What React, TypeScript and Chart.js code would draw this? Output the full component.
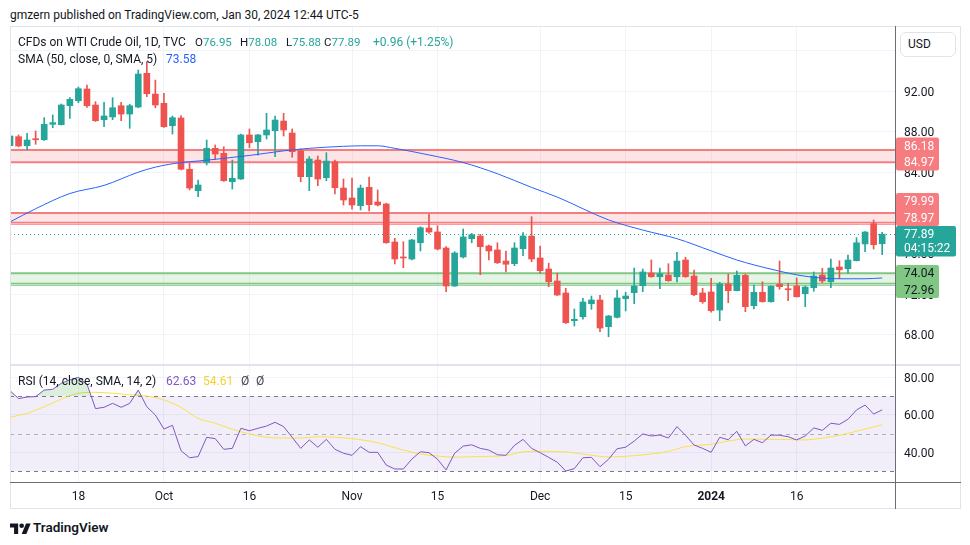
import React, { useEffect, useRef } from "react";
import { Chart, registerables } from "chart.js";

Chart.register(...registerables);

const FONT = "Roboto, 'Noto Sans', 'DejaVu Sans', sans-serif";
const TEXT = "#131722";
const GRID = "#F0F3FA";
const UP = "#26A69A";
const DOWN = "#EF5350";
const AXIS_LINE = "#6A6D78";

// ---- daily candles, Sep 6 2023 .. Jan 30 2024 (index = trading day) ----
const opens = [
  86.61, 87.5, 86.61, 87.27, 87.2, 88.72, 88.68, 90.55, 91.04, 92.2,
  90.62, 89.17, 89.44, 90.55, 89.73, 90.42, 93.74, 91.7, 90.79, 88.58,
  89.34, 84.29, 82.18, 84.94, 86.35, 85.86, 83.06, 83.33, 87.67, 87.0,
  87.67, 88.09, 89.04, 87.86, 86.09, 83.56, 85.2, 83.46, 85.03, 82.44,
  81.46, 80.7, 82.51, 81.06, 80.87, 77.12, 75.65, 75.45, 77.05, 78.5,
  78.11, 76.53, 72.79, 75.65, 77.45, 77.71, 76.73, 76.34, 75.25, 74.99,
  76.46, 77.71, 75.55, 74.46, 73.28, 72.1, 69.37, 69.76, 71.04, 71.41,
  68.78, 69.7, 71.54, 72.13, 72.82, 74.07, 73.7, 73.87, 73.7, 75.35,
  73.77, 72.1, 72.2, 70.42, 72.99, 72.33, 73.84, 70.85, 72.17, 71.24,
  72.96, 72.49, 72.79, 72.03, 72.62, 73.87, 73.21, 74.66, 74.49, 75.28,
  76.93, 78.93, 76.95,
];
const highs = [
  87.99, 87.67, 87.83, 88.06, 89.37, 89.64, 90.72, 91.34, 92.39, 92.59,
  90.95, 90.89, 91.34, 90.89, 90.69, 94.07, 94.89, 93.08, 91.77, 89.54,
  89.57, 84.88, 83.23, 87.17, 86.68, 86.51, 85.2, 87.75, 88.26, 87.72,
  89.8, 89.54, 89.8, 88.26, 86.29, 85.53, 85.6, 85.92, 85.2, 83.33,
  83.43, 82.74, 83.53, 82.25, 80.94, 77.49, 77.15, 77.38, 78.63, 79.85,
  78.73, 76.66, 76.17, 78.4, 77.98, 77.88, 76.83, 77.05, 76.24, 77.05,
  78.04, 79.62, 76.73, 75.03, 74.04, 72.56, 70.52, 71.58, 71.8, 71.87,
  69.9, 72.39, 72.17, 74.56, 74.46, 75.35, 74.56, 74.99, 76.11, 75.62,
  74.36, 72.56, 73.55, 73.15, 73.97, 74.27, 73.97, 72.89, 73.21, 72.8,
  75.25, 73.05, 73.58, 72.79, 74.17, 74.53, 75.45, 75.28, 75.84, 77.55,
  78.15, 79.29, 78.08,
];
const lows = [
  86.48, 86.51, 86.19, 86.75, 87.12, 88.38, 88.65, 89.31, 90.85, 90.39,
  89.0, 88.48, 89.17, 89.07, 88.33, 90.35, 91.44, 90.35, 88.4, 87.76,
  84.22, 82.25, 81.59, 84.71, 85.27, 83.1, 82.34, 83.28, 86.41, 85.69,
  87.27, 85.53, 87.57, 85.47, 83.06, 82.18, 82.67, 83.16, 81.85, 80.77,
  80.37, 80.28, 80.18, 80.67, 77.0, 74.96, 74.59, 75.35, 76.24, 77.98,
  76.34, 72.23, 72.75, 75.55, 77.05, 73.9, 75.35, 75.0, 74.17, 74.79,
  75.77, 75.18, 74.04, 72.72, 71.85, 69.1, 68.85, 69.51, 70.49, 68.29,
  67.79, 69.64, 70.33, 71.04, 72.23, 73.65, 72.52, 73.25, 73.18, 73.65,
  71.83, 71.08, 70.2, 69.37, 71.14, 72.3, 70.26, 70.52, 71.2, 71.2,
  72.46, 71.34, 71.7, 70.75, 72.27, 73.11, 72.62, 73.51, 74.04, 75.25,
  76.17, 76.43, 75.88,
];
const closes = [
  87.57, 86.58, 87.17, 87.2, 88.72, 88.88, 90.62, 91.18, 92.23, 90.55,
  89.07, 89.54, 90.35, 89.73, 90.55, 93.67, 91.73, 90.62, 88.48, 89.37,
  84.29, 82.44, 82.74, 86.35, 85.79, 83.16, 83.4, 87.67, 86.91, 87.67,
  88.16, 89.14, 88.16, 86.02, 83.56, 85.3, 83.33, 85.1, 82.47, 81.26,
  80.77, 82.44, 80.8, 80.77, 77.05, 75.45, 75.55, 77.32, 78.53, 78.11,
  76.43, 72.79, 76.04, 77.62, 77.84, 76.66, 76.24, 75.08, 74.93, 76.53,
  77.71, 75.45, 74.3, 73.21, 71.9, 69.17, 69.51, 71.21, 71.41, 68.65,
  69.83, 71.61, 71.8, 72.79, 74.17, 73.7, 74.0, 73.31, 75.25, 73.7,
  71.93, 71.24, 70.36, 72.99, 72.33, 73.84, 70.75, 72.17, 71.24, 72.76,
  72.72, 72.42, 71.73, 72.69, 73.77, 73.28, 74.56, 74.39, 75.35, 77.05,
  78.11, 76.86, 77.89,
];

// SMA(50) of close, read at these bar indices
const smaIdx = [0, 3, 7, 11, 15, 17, 20, 22, 28, 32, 35, 39, 41, 43, 45, 49, 53, 57, 61, 64, 70, 74, 78, 82, 85, 89, 93, 97, 100, 102];
const smaVals = [79.1, 80.4, 81.9, 82.7, 84.0, 84.5, 84.95, 85.1, 85.65, 86.1, 86.35, 86.55, 86.6, 86.6, 86.35, 85.7, 84.95, 83.85, 82.5, 81.55, 79.3, 78.3, 77.45, 76.25, 75.35, 74.45, 73.75, 73.5, 73.5, 73.58];

// RSI(14) per bar
const rsiVals = [
  72.9, 68.6, 69.5, 69.7, 73.2, 73.6, 76.8, 78.6, 80.0, 76.4,
  63.3, 64.0, 66.1, 64.0, 66.1, 73.2, 64.3, 59.9, 52.4, 54.4,
  40.9, 37.1, 37.7, 48.0, 47.3, 41.6, 42.1, 52.8, 51.5, 52.8,
  54.0, 56.0, 53.7, 48.0, 42.1, 46.6, 42.7, 46.9, 41.6, 39.5,
  38.4, 43.0, 40.0, 40.0, 33.2, 31.1, 31.1, 36.4, 40.3, 39.8,
  36.3, 30.6, 39.5, 43.3, 44.0, 42.1, 41.2, 38.7, 38.4, 43.7,
  46.9, 42.1, 39.8, 37.3, 34.7, 30.0, 31.3, 37.1, 37.3, 32.3,
  36.3, 41.9, 42.7, 46.0, 49.8, 48.7, 49.2, 47.6, 53.7, 49.1,
  43.9, 42.1, 40.0, 48.0, 46.7, 51.2, 43.4, 46.9, 45.1, 49.2,
  49.1, 48.3, 46.6, 48.7, 53.0, 51.7, 55.5, 54.9, 57.6, 62.6,
  65.2, 60.4, 62.63,
];
// SMA(14) of RSI, read at these bar indices
const rsiMaIdx = [0, 2, 4, 6, 8, 10, 12, 14, 16, 18, 20, 22, 24, 26, 28, 30, 32, 34, 36, 38, 40, 43, 46, 48, 50, 52, 55, 58, 60, 62, 65, 68, 70, 72, 74, 77, 79, 82, 84, 86, 88, 90, 93, 95, 97, 99, 100, 102];
const rsiMaVals = [58.7, 60.8, 64.3, 68.3, 71.5, 72.0, 71.5, 70.7, 70.0, 67.9, 64.0, 58.1, 55.5, 52.3, 49.8, 48.0, 47.6, 47.6, 48.3, 48.0, 47.3, 45.1, 41.2, 39.1, 38.0, 37.4, 37.8, 38.2, 40.3, 40.5, 40.2, 38.4, 37.5, 37.9, 38.6, 40.5, 43.0, 44.3, 46.0, 47.1, 47.0, 46.9, 46.6, 47.6, 49.1, 51.2, 52.4, 54.61];
const rsiLevels = [70, 50, 30];

// time axis
const tickIdx = [8, 18, 28, 40, 50, 62, 72, 82, 92];
const tickLabels = ["18", "Oct", "16", "Nov", "15", "Dec", "15", "2024", "16"];

// horizontal zones drawn on the chart
const zoneTop = [86.18, 79.99, 74.04];
const zoneBottom = [84.97, 78.97, 72.96];
const zoneColor = ["#F77C80", "#F77C80", "#81C784"];
const zoneFill = ["rgba(247,124,128,0.2)", "rgba(247,124,128,0.2)", "rgba(129,199,132,0.2)"];
const zoneLabelText = ["#FFFFFF", "#FFFFFF", "#131722"];
const zoneDoubleBottom = [false, true, true];

const countdown = "04:15:22";
const lastClose = closes[closes.length - 1];
const X_MIN = 0;
const X_MAX = 103.5;

const zonesPlugin = {
  id: "zones",
  beforeDatasetsDraw(chart: any) {
    const { ctx, chartArea: a, scales } = chart;
    const y = scales.y;
    const hline = (yy: number) => {
      ctx.beginPath();
      ctx.moveTo(a.left, yy);
      ctx.lineTo(a.right, yy);
      ctx.stroke();
    };
    ctx.save();
    ctx.beginPath();
    ctx.rect(a.left, a.top, a.right - a.left, a.bottom - a.top);
    ctx.clip();
    zoneTop.forEach((t, i) => {
      const yt = y.getPixelForValue(t);
      const yb = y.getPixelForValue(zoneBottom[i]);
      ctx.fillStyle = zoneFill[i];
      ctx.fillRect(a.left, yt, a.right - a.left, yb - yt);
      ctx.strokeStyle = zoneColor[i];
      ctx.lineWidth = 2;
      hline(yt);
      if (zoneDoubleBottom[i]) {
        ctx.lineWidth = 1.2;
        hline(yb - 0.8);
        hline(yb + 0.9);
      } else {
        hline(yb);
      }
    });
    ctx.setLineDash([1, 3]);
    ctx.strokeStyle = UP;
    ctx.lineWidth = 1;
    hline(Math.round(y.getPixelForValue(lastClose)) + 0.5);
    ctx.restore();
  },
};

const priceLabelsPlugin = {
  id: "priceLabels",
  afterDraw(chart: any) {
    const { ctx, chartArea, scales } = chart;
    const y = scales.y;
    const left = chartArea.right + 1;
    const H = 16.5;
    const lastY = y.getPixelForValue(lastClose);
    const tealLines = [
      { y: lastY, text: lastClose.toFixed(2) },
      { y: lastY + 14, text: countdown },
    ];
    const items: { y: number; text: string; group: number }[] = [];
    zoneTop.forEach((v, g) => {
      items.push({ y: y.getPixelForValue(v), text: v.toFixed(2), group: g });
      items.push({ y: y.getPixelForValue(zoneBottom[g]), text: zoneBottom[g].toFixed(2), group: g });
    });
    const above = items.filter((it) => it.y < lastY).sort((a, b) => b.y - a.y);
    let limit = tealLines[0].y;
    above.forEach((it) => {
      it.y = Math.min(it.y, limit - H);
      limit = it.y;
    });
    const below = items.filter((it) => it.y >= lastY).sort((a, b) => a.y - b.y);
    limit = tealLines[1].y;
    below.forEach((it) => {
      it.y = Math.max(it.y, limit + H);
      limit = it.y;
    });
    ctx.save();
    ctx.font = `12px ${FONT}`;
    ctx.textBaseline = "middle";
    ctx.textAlign = "left";
    zoneTop.forEach((_, g) => {
      const its = items.filter((it) => it.group === g);
      const top = Math.min(...its.map((i) => i.y)) - H / 2;
      const bot = Math.max(...its.map((i) => i.y)) + H / 2;
      ctx.fillStyle = zoneColor[g];
      ctx.beginPath();
      ctx.roundRect(left, top, 43, bot - top, 2);
      ctx.fill();
      ctx.fillStyle = zoneLabelText[g];
      its.forEach((it) => ctx.fillText(it.text, left + 8, it.y + 1));
    });
    const tTop = tealLines[0].y - H / 2;
    const tBot = tealLines[1].y + H / 2;
    ctx.fillStyle = UP;
    ctx.beginPath();
    ctx.roundRect(left, tTop, 60, tBot - tTop, 2);
    ctx.fill();
    ctx.fillStyle = "#FFFFFF";
    tealLines.forEach((l) => ctx.fillText(l.text, left + 8, l.y + 1));
    ctx.restore();
  },
};

const rsiBandPlugin = {
  id: "rsiBand",
  beforeDatasetsDraw(chart: any) {
    const { ctx, chartArea: a, scales } = chart;
    const y = scales.y;
    const yTop = y.getPixelForValue(rsiLevels[0]);
    const yBot = y.getPixelForValue(rsiLevels[2]);
    ctx.save();
    ctx.fillStyle = "rgba(126,87,194,0.1)";
    ctx.fillRect(a.left, yTop, a.right - a.left, yBot - yTop);
    ctx.setLineDash([4, 4]);
    ctx.lineWidth = 1;
    rsiLevels.forEach((lv, i) => {
      ctx.strokeStyle = i === 1 ? "rgba(120,123,134,0.55)" : "#787B86";
      const yy = Math.round(y.getPixelForValue(lv)) + 0.5;
      ctx.beginPath();
      ctx.moveTo(a.left, yy);
      ctx.lineTo(a.right, yy);
      ctx.stroke();
    });
    ctx.restore();
  },
};

const xTicks = (s: any) => {
  s.ticks = tickIdx.map((v) => ({ value: v }));
};

export default function App() {
  const priceRef = useRef<HTMLCanvasElement>(null);
  const rsiRef = useRef<HTMLCanvasElement>(null);

  useEffect(() => {
    const idx = closes.map((_, i) => i);
    const candleColors = idx.map((i) => (closes[i] >= opens[i] ? UP : DOWN));

    const priceChart = new Chart(priceRef.current as HTMLCanvasElement, {
      type: "bar",
      data: {
        datasets: [
          {
            type: "line",
            data: smaIdx.map((x, i) => ({ x, y: smaVals[i] })),
            borderColor: "#2962FF",
            borderWidth: 1,
            pointRadius: 0,
            tension: 0.4,
            cubicInterpolationMode: "monotone",
            order: 0,
          } as any,
          {
            type: "bar",
            data: idx.map((i) => ({ x: i, y: [opens[i], closes[i]] })),
            backgroundColor: candleColors,
            barThickness: 6,
            grouped: false,
            minBarLength: 1,
            borderWidth: 0,
            clip: 0,
            order: 1,
          } as any,
          {
            type: "bar",
            data: idx.map((i) => ({ x: i, y: [lows[i], highs[i]] })),
            backgroundColor: candleColors,
            barThickness: 1,
            grouped: false,
            borderWidth: 0,
            clip: 0,
            order: 2,
          } as any,
        ],
      },
      options: {
        responsive: false,
        maintainAspectRatio: false,
        animation: false,
        events: [],
        layout: { padding: 0 },
        plugins: { legend: { display: false }, tooltip: { enabled: false } },
        scales: {
          x: {
            type: "linear",
            min: X_MIN,
            max: X_MAX,
            offset: false,
            afterBuildTicks: xTicks,
            ticks: { display: false },
            grid: { color: GRID, drawTicks: false, offset: false },
            border: { display: false },
            afterFit: (s: any) => {
              s.height = 0;
              s.paddingLeft = 0;
              s.paddingRight = 0;
            },
          },
          y: {
            position: "right",
            min: 65.005,
            max: 98.404,
            ticks: {
              stepSize: 4,
              includeBounds: false,
              padding: 9,
              labelOffset: 1.5,
              color: TEXT,
              font: { family: FONT, size: 12 },
              callback: (v: any) => Number(v).toFixed(2),
            },
            grid: { color: GRID, drawTicks: false },
            border: { display: false },
            afterFit: (s: any) => {
              s.width = 65;
              s.paddingTop = 0;
              s.paddingBottom = 0;
            },
          },
        },
      } as any,
      plugins: [zonesPlugin, priceLabelsPlugin],
    });

    const rsiChart = new Chart(rsiRef.current as HTMLCanvasElement, {
      type: "line",
      data: {
        datasets: [
          {
            data: rsiVals.map((y, i) => ({ x: i, y })),
            borderColor: "#7E57C2",
            borderWidth: 1,
            pointRadius: 0,
            tension: 0,
            fill: { target: { value: rsiLevels[0] }, above: "rgba(76,175,80,0.2)", below: "rgba(0,0,0,0)" },
          },
          {
            data: rsiMaIdx.map((x, i) => ({ x, y: rsiMaVals[i] })),
            borderColor: "#F9E04B",
            borderWidth: 1,
            pointRadius: 0,
            tension: 0.4,
            cubicInterpolationMode: "monotone",
            fill: false,
          },
        ],
      },
      options: {
        responsive: false,
        maintainAspectRatio: false,
        animation: false,
        events: [],
        layout: { padding: 0 },
        plugins: { legend: { display: false }, tooltip: { enabled: false } },
        scales: {
          x: {
            type: "linear",
            min: X_MIN,
            max: X_MAX,
            offset: false,
            afterBuildTicks: xTicks,
            ticks: {
              autoSkip: false,
              maxRotation: 0,
              padding: 8,
              color: TEXT,
              font: (ctx: any) => ({
                family: FONT,
                size: 12,
                weight: tickLabels[ctx.index] === "2024" ? "bold" : "normal",
              }),
              callback: (_v: any, i: number) => tickLabels[i],
            },
            grid: { color: GRID, drawTicks: false },
            border: { display: false },
            afterFit: (s: any) => {
              s.height = 26;
              s.paddingLeft = 0;
              s.paddingRight = 0;
            },
          },
          y: {
            position: "right",
            min: 24.16,
            max: 86.56,
            ticks: {
              stepSize: 20,
              includeBounds: false,
              padding: 9,
              labelOffset: 1.5,
              color: TEXT,
              font: { family: FONT, size: 12 },
              callback: (v: any) => Number(v).toFixed(2),
            },
            grid: { color: GRID, drawTicks: false },
            border: { display: false },
            afterFit: (s: any) => {
              s.width = 65;
              s.paddingTop = 0;
              s.paddingBottom = 0;
            },
          },
        },
      } as any,
      plugins: [rsiBandPlugin],
    });

    return () => {
      priceChart.destroy();
      rsiChart.destroy();
    };
  }, []);

  const abs = (left: number, top: number, extra: React.CSSProperties = {}): React.CSSProperties => ({
    position: "absolute",
    left,
    top,
    whiteSpace: "nowrap",
    lineHeight: "14px",
    fontSize: 12,
    color: TEXT,
    ...extra,
  });

  return (
    <div
      style={{
        position: "absolute",
        left: 0,
        top: 0,
        width: 970,
        height: 545,
        background: "#FFFFFF",
        overflow: "hidden",
        fontFamily: FONT,
      }}
    >
      <div style={abs(10, 8, { fontSize: 12 })}>gmzern published on TradingView.com, Jan 30, 2024 12:44 UTC-5</div>

      <canvas ref={priceRef} width={950} height={339} style={{ position: "absolute", left: 10, top: 26, width: 950, height: 339 }} />
      <canvas ref={rsiRef} width={950} height={143} style={{ position: "absolute", left: 10, top: 365, width: 950, height: 143 }} />

      {/* frame */}
      <div style={{ position: "absolute", left: 10, top: 26, width: 951, height: 483, border: "1px solid #E0E3EB", boxSizing: "border-box" }} />
      <div style={{ position: "absolute", left: 10, top: 364, width: 951, height: 2, background: "#E0E3EB" }} />
      <div style={{ position: "absolute", left: 895, top: 26, width: 1, height: 483, background: AXIS_LINE }} />
      <div style={{ position: "absolute", left: 10, top: 482, width: 951, height: 1, background: AXIS_LINE }} />

      {/* legend */}
      <div style={abs(18, 35)}>CFDs on WTI Crude Oil, 1D, TVC</div>
      <div style={abs(195, 35, { fontSize: 11.5 })}>O<span style={{ color: UP }}>76.95</span></div>
      <div style={abs(240, 35, { fontSize: 11.5 })}>H<span style={{ color: UP }}>78.08</span></div>
      <div style={abs(286, 35, { fontSize: 11.5 })}>L<span style={{ color: UP }}>75.88</span></div>
      <div style={abs(324, 35, { fontSize: 11.5 })}>C<span style={{ color: UP }}>77.89</span></div>
      <div style={abs(373, 35, { color: UP })}>+0.96 (+1.25%)</div>
      <div style={abs(18, 52)}>SMA (50, close, 0, SMA, 5)</div>
      <div style={abs(166, 52, { color: "#2962FF" })}>73.58</div>

      <div style={abs(18, 374)}>RSI (14, close, SMA, 14, 2)</div>
      <div style={abs(166, 374, { color: "#7E57C2" })}>62.63</div>
      <div style={abs(203, 374, { color: "#F2D230" })}>54.61</div>
      <div style={abs(241, 374, { color: "#434651" })}>Ø</div>
      <div style={abs(256, 374, { color: "#434651" })}>Ø</div>

      {/* currency button */}
      <div
        style={{
          position: "absolute",
          left: 900,
          top: 32,
          width: 56,
          height: 25,
          border: "1px solid #E0E3EB",
          borderRadius: 6,
          boxSizing: "border-box",
          background: "#FFFFFF",
          fontSize: 12,
          lineHeight: "23px",
          paddingLeft: 7,
          color: TEXT,
        }}
      >
        USD
      </div>

      {/* footer logo */}
      <svg style={{ position: "absolute", left: 10, top: 521 }} width="21" height="13" viewBox="0 0 36 22">
        <path d="M14 22H7V11H0V4h14v18z" fill={TEXT} />
        <circle cx="20" cy="8" r="4" fill={TEXT} />
        <path d="M28 22h-8l7.5-18h8z" fill={TEXT} />
      </svg>
      <div style={abs(33, 520, { fontSize: 13.5, fontWeight: 600 })}>TradingView</div>
    </div>
  );
}
